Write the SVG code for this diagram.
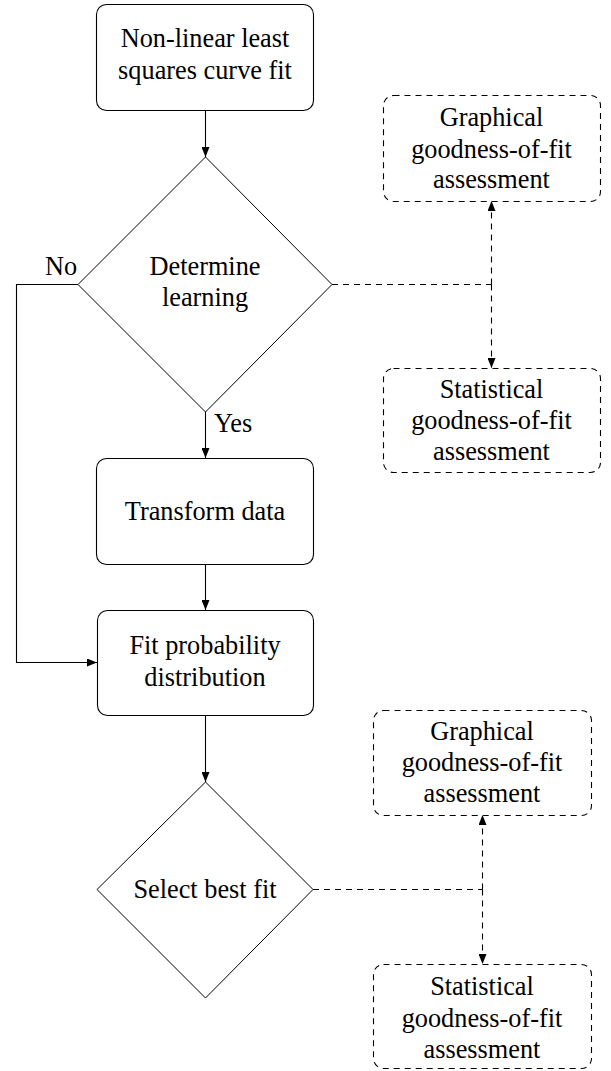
<svg xmlns="http://www.w3.org/2000/svg" width="611" height="1071" viewBox="0 0 611 1071">
  <defs>
    <marker id="arrow" viewBox="0 0 10 10" refX="10" refY="5" markerWidth="10" markerHeight="8" markerUnits="userSpaceOnUse" orient="auto" preserveAspectRatio="none">
      <path d="M0,0 L10,5 L0,10 z" fill="#000"/>
    </marker>
    <style>
      .box { fill: #fff; stroke: #000; stroke-width: 1.1; }
      .dbox { fill: #fff; stroke: #000; stroke-width: 1.1; stroke-dasharray: 6 5; }
      .dia { fill: #fff; stroke: #000; stroke-width: 1; }
      .edge { fill: none; stroke: #000; stroke-width: 1.1; }
      .dedge { fill: none; stroke: #000; stroke-width: 1.1; stroke-dasharray: 6 5; }
      text { font-family: "Liberation Serif", "Times New Roman", serif; font-size: 26.3px; fill: #000; }
      .c { text-anchor: middle; }
    </style>
  </defs>

  <!-- connectors -->
  <g id="connectors">
    <line class="edge" x1="205.5" y1="110" x2="205.5" y2="157" marker-end="url(#arrow)"/>
    <line class="edge" x1="205.5" y1="412" x2="205.5" y2="458" marker-end="url(#arrow)"/>
    <line class="edge" x1="205.5" y1="564" x2="205.5" y2="610" marker-end="url(#arrow)"/>
    <line class="edge" x1="205.5" y1="715" x2="205.5" y2="782" marker-end="url(#arrow)"/>
    <polyline class="edge" points="78,284.5 16.5,284.5 16.5,662.5 97,662.5" marker-end="url(#arrow)"/>
    <!-- assessment links, upper decision -->
    <line class="dedge" x1="332" y1="284.5" x2="491.5" y2="284.5"/>
    <line class="dedge" x1="491.5" y1="284.5" x2="491.5" y2="201" marker-end="url(#arrow)"/>
    <line class="dedge" x1="491.5" y1="284.5" x2="491.5" y2="368" marker-end="url(#arrow)"/>
    <!-- assessment links, lower decision -->
    <line class="dedge" x1="313" y1="889.5" x2="482.5" y2="889.5"/>
    <line class="dedge" x1="482.5" y1="889.5" x2="482.5" y2="815" marker-end="url(#arrow)"/>
    <line class="dedge" x1="482.5" y1="889.5" x2="482.5" y2="964" marker-end="url(#arrow)"/>
    <text x="45" y="275">No</text>
    <text x="214" y="432">Yes</text>
  </g>

  <g id="curve-fit">
    <rect class="box" x="96.5" y="4.5" width="217" height="106" rx="10"/>
    <text class="c" x="205" y="47">Non-linear least</text>
    <text class="c" x="205" y="79">squares curve fit</text>
  </g>

  <g id="determine-learning">
    <polygon class="dia" points="205.5,157 332,284.5 205.5,412 78,284.5"/>
    <text class="c" x="205" y="275">Determine</text>
    <text class="c" x="205" y="306">learning</text>
  </g>

  <g id="transform-data">
    <rect class="box" x="96.5" y="458.5" width="217" height="106" rx="10"/>
    <text class="c" x="205" y="520">Transform data</text>
  </g>

  <g id="fit-distribution">
    <rect class="box" x="97.5" y="610.5" width="216" height="105" rx="10"/>
    <text class="c" x="205" y="654">Fit probability</text>
    <text class="c" x="205" y="686">distribution</text>
  </g>

  <g id="select-best-fit">
    <polygon class="dia" points="205.5,782 313,889.5 205.5,998 97,889.5"/>
    <text class="c" x="205" y="898">Select best fit</text>
  </g>

  <g id="graphical-1">
    <rect class="dbox" x="383.5" y="95.5" width="217" height="106" rx="10"/>
    <text class="c" x="491.5" y="126">Graphical</text>
    <text class="c" x="491.5" y="158">goodness-of-fit</text>
    <text class="c" x="491.5" y="188">assessment</text>
  </g>

  <g id="statistical-1">
    <rect class="dbox" x="383.5" y="368.5" width="217" height="104" rx="10"/>
    <text class="c" x="491.5" y="398">Statistical</text>
    <text class="c" x="491.5" y="429">goodness-of-fit</text>
    <text class="c" x="491.5" y="460">assessment</text>
  </g>

  <g id="graphical-2">
    <rect class="dbox" x="373.5" y="710.5" width="218" height="105" rx="10"/>
    <text class="c" x="482" y="740">Graphical</text>
    <text class="c" x="482" y="771">goodness-of-fit</text>
    <text class="c" x="482" y="802">assessment</text>
  </g>

  <g id="statistical-2">
    <rect class="dbox" x="373.5" y="964.5" width="218" height="104" rx="10"/>
    <text class="c" x="482" y="995">Statistical</text>
    <text class="c" x="482" y="1027">goodness-of-fit</text>
    <text class="c" x="482" y="1058">assessment</text>
  </g>
</svg>
